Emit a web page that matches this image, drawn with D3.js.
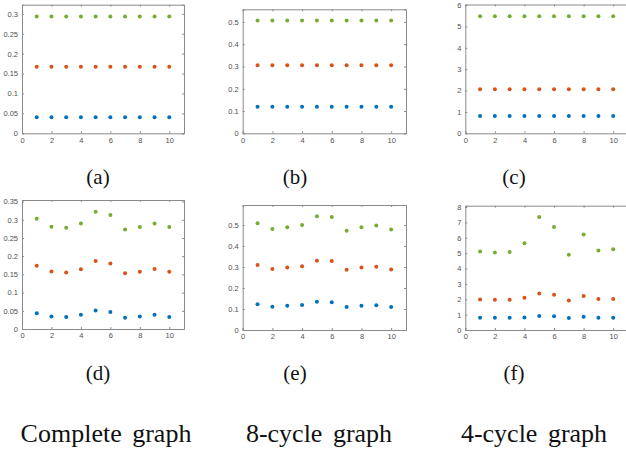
<!DOCTYPE html>
<html><head><meta charset="utf-8">
<script src="https://cdn.jsdelivr.net/npm/d3@7"></script>
<style>
html,body{margin:0;padding:0;background:#fff;}
svg{display:block;}
</style></head>
<body>
<svg id="chart" width="626" height="454"></svg>
<script>
// ---- data ----
const runs = [1,2,3,4,5,6,7,8,9,10];
const xTickLabels = [0,2,4,6,8,10];

// (a) complete graph, top row
const aBlue   = [0.040,0.040,0.040,0.040,0.040,0.040,0.040,0.040,0.040,0.040];
const aOrange = [0.167,0.167,0.167,0.167,0.167,0.167,0.167,0.167,0.167,0.167];
const aGreen  = [0.2935,0.2935,0.2935,0.2935,0.2935,0.2935,0.2935,0.2935,0.2935,0.2935];
const aTicks  = [0,0.05,0.1,0.15,0.2,0.25,0.3];

// (b) 8-cycle graph, top row
const bBlue   = [0.119,0.119,0.119,0.119,0.119,0.119,0.119,0.119,0.119,0.119];
const bOrange = [0.306,0.306,0.306,0.306,0.306,0.306,0.306,0.306,0.306,0.306];
const bGreen  = [0.506,0.506,0.506,0.506,0.506,0.506,0.506,0.506,0.506,0.506];
const bTicks  = [0,0.1,0.2,0.3,0.4,0.5];

// (c) 4-cycle graph, top row
const cBlue   = [0.81,0.81,0.81,0.81,0.81,0.81,0.81,0.81,0.81,0.81];
const cOrange = [2.06,2.06,2.06,2.06,2.06,2.06,2.06,2.06,2.06,2.06];
const cGreen  = [5.48,5.48,5.48,5.48,5.48,5.48,5.48,5.48,5.48,5.48];
const cTicks  = [0,1,2,3,4,5,6];

// (d) complete graph, bottom row
const dBlue   = [0.043,0.034,0.033,0.039,0.051,0.047,0.031,0.034,0.039,0.033];
const dOrange = [0.174,0.158,0.155,0.164,0.187,0.180,0.153,0.1575,0.165,0.157];
const dGreen  = [0.303,0.281,0.278,0.290,0.322,0.313,0.2735,0.280,0.290,0.280];
const dTicks  = [0,0.05,0.1,0.15,0.2,0.25,0.3,0.35];

// (e) 8-cycle graph, bottom row
const eBlue   = [0.123,0.111,0.115,0.119,0.134,0.132,0.110,0.115,0.118,0.110];
const eOrange = [0.309,0.291,0.298,0.304,0.330,0.328,0.287,0.298,0.301,0.288];
const eGreen  = [0.508,0.481,0.489,0.500,0.541,0.538,0.473,0.489,0.497,0.478];
const eTicks  = [0,0.1,0.2,0.3,0.4,0.5];

// (f) 4-cycle graph, bottom row
const fBlue   = [0.80,0.80,0.80,0.82,0.91,0.89,0.78,0.865,0.80,0.80];
const fOrange = [1.99,1.97,1.97,2.10,2.38,2.29,1.92,2.21,2.01,2.01];
const fGreen  = [5.10,5.04,5.08,5.64,7.35,6.70,4.89,6.21,5.17,5.25];
const fTicks  = [0,1,2,3,4,5,6,7,8];

const panelLabels = ["(a)","(b)","(c)","(d)","(e)","(f)"];
const columnTitles = ["Complete graph","8-cycle graph","4-cycle graph"];

// ---- layout / style ----
const colors = ["#0072BD","#D95319","#77AC30"];
const panelData = [
  {series:[aBlue,aOrange,aGreen], ticks:aTicks},
  {series:[bBlue,bOrange,bGreen], ticks:bTicks},
  {series:[cBlue,cOrange,cGreen], ticks:cTicks},
  {series:[dBlue,dOrange,dGreen], ticks:dTicks},
  {series:[eBlue,eOrange,eGreen], ticks:eTicks},
  {series:[fBlue,fOrange,fGreen], ticks:fTicks}
];
const boxes = [
  {l:22,    r:184, t:4.7,   b:133.3, cx:98,  cy:184},
  {l:242.7, r:406, t:9.3,   b:133.3, cx:295, cy:184},
  {l:465.3, r:628, t:4.5,   b:133.3, cx:514, cy:184},
  {l:22,    r:184, t:200,   b:329,   cx:98,  cy:380},
  {l:242.7, r:406, t:205,   b:330,   cx:295, cy:380},
  {l:465.3, r:628, t:205.7, b:330,   cx:514, cy:380}
];
const titleX = [106, 319, 534];
const titleY = 442;

const svg = d3.select("#chart");
const axisColor = "#8a8a8a";
const tickTextColor = "#505050";

panelData.forEach((p, i) => {
  const bx = boxes[i];
  const ymax = 1.1 * d3.max(p.series.flat());
  const x = d3.scaleLinear().domain([0, 11]).range([bx.l, bx.r]);
  const y = d3.scaleLinear().domain([0, ymax]).range([bx.b, bx.t]);
  const g = svg.append("g");

  // axes (inward ticks, MATLAB-like box)
  const fmt = d => String(+d.toFixed(4));
  const left = d3.axisLeft(y).tickValues(p.ticks).tickSize(-2).tickPadding(4).tickFormat(fmt);
  const bottom = d3.axisBottom(x).tickValues(xTickLabels).tickSize(-2).tickPadding(4).tickFormat(d3.format("d"));
  const right = d3.axisRight(y).tickValues(p.ticks).tickSize(-2).tickFormat("");
  const top = d3.axisTop(x).tickValues(xTickLabels).tickSize(-2).tickFormat("");

  const gl = g.append("g").attr("transform", `translate(${bx.l},0)`).call(left);
  const gb = g.append("g").attr("transform", `translate(0,${bx.b})`).call(bottom);
  const gr = g.append("g").attr("transform", `translate(${bx.r},0)`).call(right);
  const gt = g.append("g").attr("transform", `translate(0,${bx.t})`).call(top);
  [gl,gb,gr,gt].forEach(a => {
    a.select(".domain").attr("stroke", axisColor).attr("stroke-width", 1);
    a.selectAll(".tick line").attr("stroke", axisColor);
    a.selectAll("text").attr("fill", tickTextColor)
      .style("font-family", "'Liberation Sans', Arial, sans-serif").style("font-size", "7.5px");
  });

  // points
  p.series.forEach((vals, si) => {
    g.append("g").selectAll("circle").data(vals).join("circle")
      .attr("cx", (d, k) => x(runs[k]))
      .attr("cy", d => y(d))
      .attr("r", 2)
      .attr("fill", colors[si]);
  });

  // panel label
  svg.append("text").attr("x", bx.cx).attr("y", bx.cy)
    .attr("text-anchor", "middle")
    .style("font-family", "'Liberation Serif', 'Times New Roman', serif")
    .style("font-size", "21px").attr("fill", "#111")
    .text(panelLabels[i]);
});

columnTitles.forEach((t, i) => {
  svg.append("text").attr("x", titleX[i]).attr("y", titleY)
    .attr("text-anchor", "middle")
    .style("font-family", "'Liberation Serif', 'Times New Roman', serif")
    .style("font-size", "26px").style("word-spacing", "4px").attr("fill", "#111")
    .text(t);
});
</script>
</body></html>
